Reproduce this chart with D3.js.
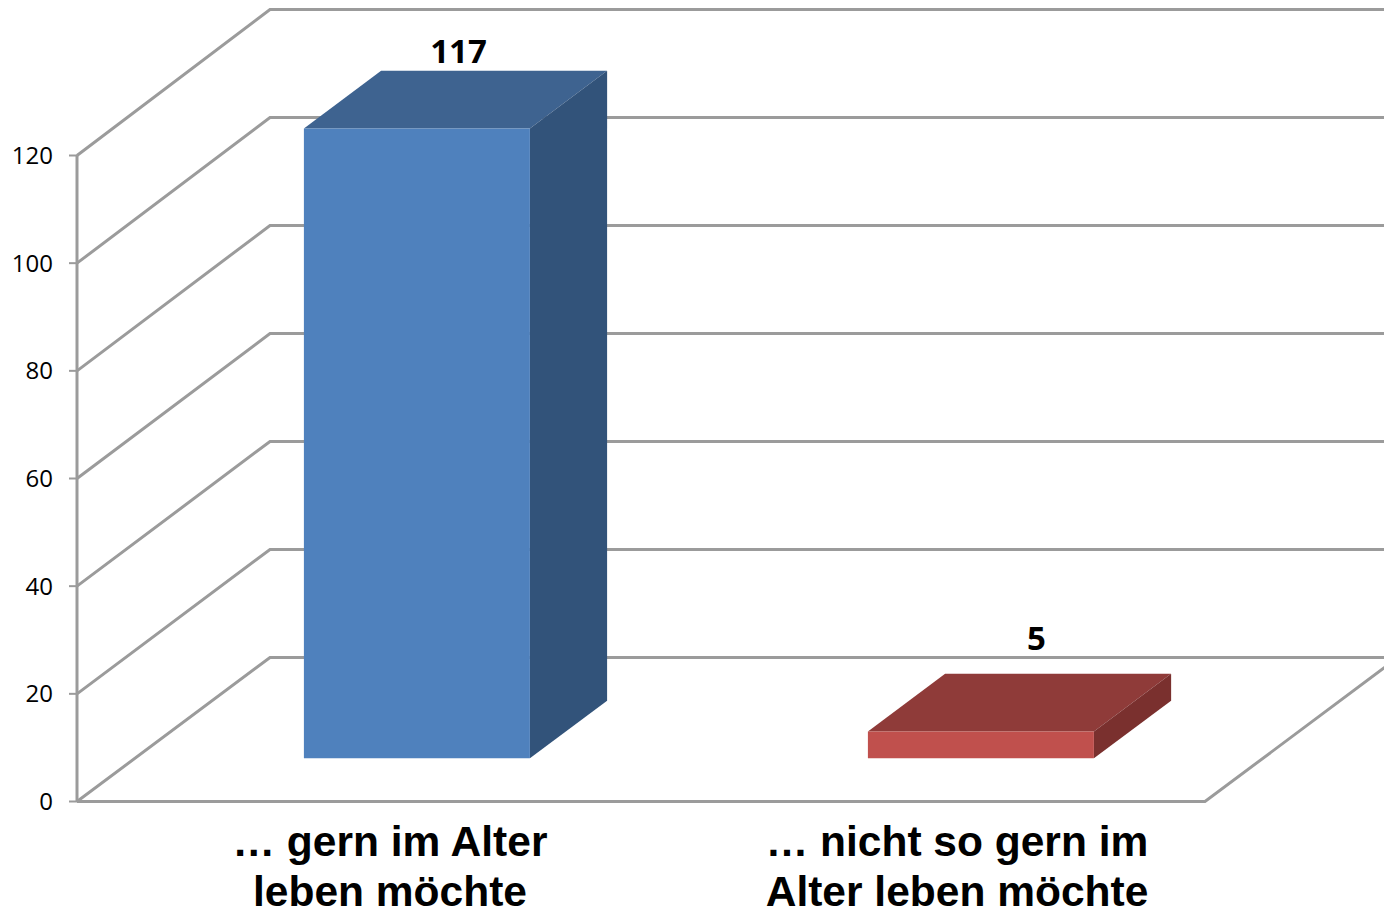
<!DOCTYPE html>
<html><head><meta charset="utf-8">
<script src="https://cdn.jsdelivr.net/npm/d3@7/dist/d3.min.js"></script>
<style>html,body{margin:0;padding:0;background:#fff;overflow:hidden}svg{display:block}</style>
</head><body><div id="chart"></div>
<script>
const categories = ["… gern im Alter|leben möchte", "… nicht so gern im|Alter leben möchte"];
const values = [117, 5];
const yTicks = [0, 20, 40, 60, 80, 100, 120];
const faceColors = ["#4f81bd", "#c0504d"];
const topColors = ["#3e6390", "#8f3b39"];
const sideColors = ["#32537a", "#7a302e"];
const labelOffsets = [3, 17];
const labelLifts = [8, 24];
const catLabelX = [390, 957];

const W = 1384, H = 914;
const svg = d3.select("#chart").append("svg").attr("width", W).attr("height", H);
const x = d3.scaleBand().domain(d3.range(categories.length)).range([77, 1205]).paddingInner(0).paddingOuter(0);
const y = d3.scaleLinear().domain([0, 120]).range([801.5, 155.5]);
const yBack = d3.scaleLinear().domain([0, 120]).range([657.5, 9.5]);
const depthX = 193, depthY = -144;
const barW = 226, barZ0 = 0.30, barZ1 = 0.70;
const proj = (px, py, z) => [px + depthX * z, py + depthY * z];
const grid = "#9b9b9b";
const line = d3.line();

const g = svg.append("g");
yTicks.forEach(t => {
  const p0 = [x.range()[0], y(t)];
  g.append("path").attr("d", line([p0, [p0[0] + depthX, yBack(t)], [W + 20, yBack(t)]]))
    .attr("fill", "none").attr("stroke", grid).attr("stroke-width", 3);
  g.append("line").attr("x1", 69).attr("x2", 77).attr("y1", y(t)).attr("y2", y(t))
    .attr("stroke", grid).attr("stroke-width", 2);
  g.append("text").attr("x", 53).attr("y", y(t)).attr("dy", "0.36em").attr("text-anchor", "end")
    .attr("font-family", "'Open Sans'").attr("font-size", 24).attr("fill", "#000").text(t);
});
g.append("line").attr("x1", 77).attr("x2", 77).attr("y1", y(120)).attr("y2", y(0)).attr("stroke", grid).attr("stroke-width", 3);
const floorR = x.range()[1];
g.append("path").attr("d", line([[77, y(0)], [floorR, y(0)], proj(floorR, y(0), 1)]))
  .attr("fill", "none").attr("stroke", grid).attr("stroke-width", 3);

values.forEach((v, i) => {
  const cx = x(i) + x.bandwidth() / 2, x0 = cx - barW / 2, x1 = cx + barW / 2;
  const a = proj(x0, y(v), barZ0), b = proj(x1, y(v), barZ0);
  const c = proj(x1, y(0), barZ0), d = proj(x0, y(v), barZ1), e = proj(x1, y(v), barZ1), f = proj(x1, y(0), barZ1);
  const fa = proj(x0, y(0), barZ0);
  const poly = (pts, col) => g.append("path").attr("d", line(pts) + "Z").attr("fill", col);
  poly([a, d, e, b], topColors[i]);
  poly([b, e, f, c], sideColors[i]);
  poly([a, b, c, fa], faceColors[i]);
  g.append("text").attr("x", (a[0] + e[0]) / 2 + labelOffsets[i]).attr("y", e[1] - labelLifts[i])
    .attr("text-anchor", "middle").attr("font-family", "'Open Sans'").attr("font-weight", 700)
    .attr("font-size", 33).attr("fill", "#000").text(v);
  categories[i].split("|").forEach((s, k) => {
    g.append("text").attr("x", catLabelX[i]).attr("y", 856 + k * 50).attr("text-anchor", "middle")
      .attr("font-family", "'Liberation Sans'").attr("font-weight", 700).attr("font-size", 42.5)
      .attr("fill", "#000").text(s);
  });
});
</script></body></html>
